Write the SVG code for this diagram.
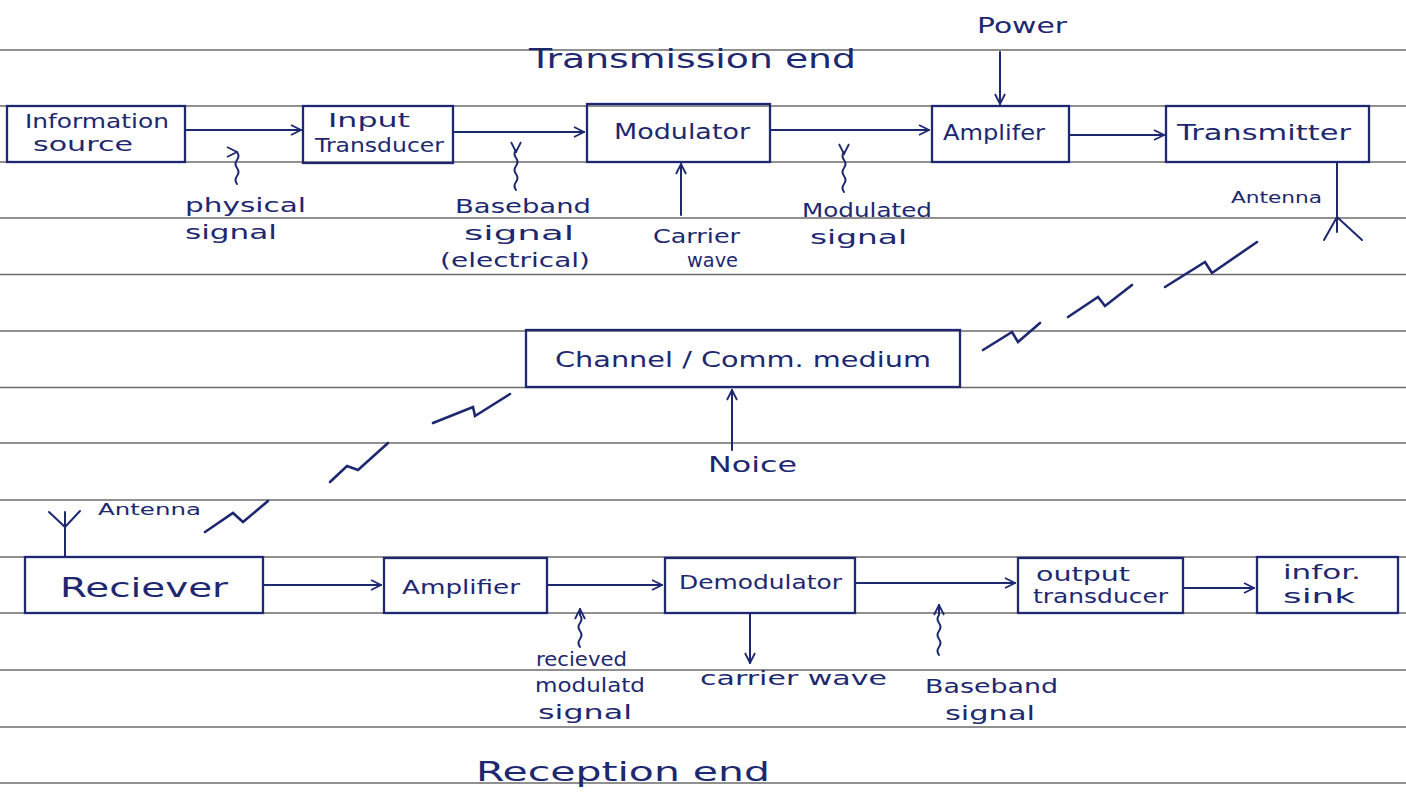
<svg xmlns="http://www.w3.org/2000/svg" width="1406" height="809" viewBox="0 0 1406 809">
<defs>
<style>
.rule{stroke:#6b6b6b;stroke-width:1.6;fill:none}
.box{fill:none;stroke:#1d2870;stroke-width:2.3}
.ink{fill:none;stroke:#1d2870;stroke-width:2;stroke-linecap:round;stroke-linejoin:round}
.zig{fill:none;stroke:#1d2870;stroke-width:2.6;stroke-linecap:round;stroke-linejoin:miter}
text{font-family:"DejaVu Sans","Liberation Sans",sans-serif;fill:#1d2870}
.s{font-size:19px}
.m{font-size:21px}
.l{font-size:26px}
.xs{font-size:16px}
</style>
<marker id="ah" viewBox="0 0 12 12" refX="11" refY="6" markerWidth="12" markerHeight="12" markerUnits="userSpaceOnUse" orient="auto">
<path d="M1,1 L11,6 L1,11" fill="none" stroke="#1d2870" stroke-width="1.8"/>
</marker>
</defs>
<rect width="1406" height="809" fill="#ffffff"/>

<g id="ruled-lines">
<line class="rule" x1="0" y1="50" x2="1406" y2="50"/>
<line class="rule" x1="0" y1="106" x2="1406" y2="106"/>
<line class="rule" x1="0" y1="162" x2="1406" y2="162"/>
<line class="rule" x1="0" y1="218" x2="1406" y2="218"/>
<line class="rule" x1="0" y1="274.5" x2="1406" y2="274.5"/>
<line class="rule" x1="0" y1="331" x2="1406" y2="331"/>
<line class="rule" x1="0" y1="387.5" x2="1406" y2="387.5"/>
<line class="rule" x1="0" y1="443" x2="1406" y2="443"/>
<line class="rule" x1="0" y1="500" x2="1406" y2="500"/>
<line class="rule" x1="0" y1="557" x2="1406" y2="557"/>
<line class="rule" x1="0" y1="613" x2="1406" y2="613"/>
<line class="rule" x1="0" y1="670" x2="1406" y2="670"/>
<line class="rule" x1="0" y1="727" x2="1406" y2="727"/>
<line class="rule" x1="0" y1="783" x2="1406" y2="783"/>
</g>

<g id="headings">
<text class="l" x="529" y="68" textLength="327" lengthAdjust="spacingAndGlyphs">Transmission end</text>
<text class="l" x="476" y="781" textLength="294" lengthAdjust="spacingAndGlyphs">Reception end</text>
</g>

<g id="info-source">
<rect class="box" x="7" y="106" width="178" height="56"/>
<text class="s" x="25" y="128" textLength="144" lengthAdjust="spacingAndGlyphs">Information</text>
<text class="s" x="33" y="151" textLength="100" lengthAdjust="spacingAndGlyphs">source</text>
</g>
<g id="input-transducer">
<rect class="box" x="303" y="106" width="150" height="57"/>
<text class="s" x="328" y="127" textLength="82" lengthAdjust="spacingAndGlyphs">Input</text>
<text class="s" x="315" y="152" textLength="129" lengthAdjust="spacingAndGlyphs">Transducer</text>
</g>
<g id="modulator">
<rect class="box" x="587" y="104" width="183" height="58"/>
<text class="m" x="614" y="139" textLength="136" lengthAdjust="spacingAndGlyphs">Modulator</text>
</g>
<g id="amplifier-tx">
<rect class="box" x="932" y="106" width="137" height="56"/>
<text class="m" x="943" y="140" textLength="102" lengthAdjust="spacingAndGlyphs">Amplifer</text>
</g>
<g id="transmitter">
<rect class="box" x="1166" y="106" width="203" height="56"/>
<text class="m" x="1177" y="140" textLength="174" lengthAdjust="spacingAndGlyphs">Transmitter</text>
</g>
<g id="channel">
<rect class="box" x="526" y="330" width="434" height="57"/>
<text class="m" x="555" y="367" textLength="376" lengthAdjust="spacingAndGlyphs">Channel / Comm. medium</text>
</g>
<g id="receiver">
<rect class="box" x="25" y="557" width="238" height="56"/>
<text class="l" x="60" y="597" textLength="168" lengthAdjust="spacingAndGlyphs">Reciever</text>
</g>
<g id="amplifier-rx">
<rect class="box" x="384" y="558" width="163" height="55"/>
<text class="s" x="402" y="594" textLength="118" lengthAdjust="spacingAndGlyphs">Amplifier</text>
</g>
<g id="demodulator">
<rect class="box" x="665" y="558" width="190" height="55"/>
<text class="s" x="679" y="589" textLength="163" lengthAdjust="spacingAndGlyphs">Demodulator</text>
</g>
<g id="output-transducer">
<rect class="box" x="1018" y="558" width="165" height="55"/>
<text class="s" x="1036" y="581" textLength="94" lengthAdjust="spacingAndGlyphs">output</text>
<text class="s" x="1033" y="603" textLength="135" lengthAdjust="spacingAndGlyphs">transducer</text>
</g>
<g id="info-sink">
<rect class="box" x="1257" y="557" width="141" height="56"/>
<text class="s" x="1283" y="579" textLength="78" lengthAdjust="spacingAndGlyphs">infor.</text>
<text class="s" x="1283" y="603" textLength="72" lengthAdjust="spacingAndGlyphs">sink</text>
</g>

<g id="connectors">
<line class="ink" x1="185" y1="130" x2="301" y2="130" marker-end="url(#ah)"/>
<line class="ink" x1="453" y1="132" x2="584" y2="132" marker-end="url(#ah)"/>
<line class="ink" x1="770" y1="130" x2="929" y2="130" marker-end="url(#ah)"/>
<line class="ink" x1="1069" y1="135" x2="1164" y2="135" marker-end="url(#ah)"/>
<line class="ink" x1="1000" y1="52" x2="1000" y2="104" marker-end="url(#ah)"/>
<line class="ink" x1="681" y1="215" x2="681" y2="164" marker-end="url(#ah)"/>
<line class="ink" x1="732" y1="450" x2="732" y2="390" marker-end="url(#ah)"/>
<line class="ink" x1="263" y1="585" x2="381" y2="585" marker-end="url(#ah)"/>
<line class="ink" x1="547" y1="585" x2="662" y2="585" marker-end="url(#ah)"/>
<line class="ink" x1="855" y1="583" x2="1015" y2="583" marker-end="url(#ah)"/>
<line class="ink" x1="1183" y1="588" x2="1254" y2="588" marker-end="url(#ah)"/>
<line class="ink" x1="750" y1="613" x2="750" y2="663" marker-end="url(#ah)"/>
<!-- signal squiggles -->
<path class="ink" d="M237,184 q-3,-4 0,-8 q3,-4 0,-8 q-3,-4 0,-8 q3,-4 0,-8 L237,152" marker-end="url(#ah)"/>
<path class="ink" d="M516,190 q-3,-4 0,-8 q3,-4 0,-8 q-3,-4 0,-8 q3,-4 0,-8 q-3,-4 0,-8 L516,152" marker-end="url(#ah)"/>
<path class="ink" d="M844,192 q-3,-4 0,-8 q3,-4 0,-8 q-3,-4 0,-8 q3,-4 0,-8 q-3,-4 0,-8 L844,154" marker-end="url(#ah)"/>
<path class="ink" d="M580,647 q-3,-4 0,-8 q3,-4 0,-8 q-3,-4 0,-8 q3,-4 0,-8 L580,609" marker-end="url(#ah)"/>
<path class="ink" d="M939,655 q-3,-4 0,-8 q3,-4 0,-8 q-3,-4 0,-8 q3,-4 0,-8 q-3,-4 0,-8 L939,605" marker-end="url(#ah)"/>
<!-- antennas -->
<path class="ink" d="M1337,162 L1337,232 M1337,217 L1324,240 M1337,217 L1362,240"/>
<path class="ink" d="M65,557 L65,512 M49,512 L65,527 M80,511 L65,527"/>
<!-- radio links -->
<path class="zig" d="M983,350 L1012,332 L1018,342 L1040,323"/>
<path class="zig" d="M1068,317 L1098,297 L1105,306 L1132,285"/>
<path class="zig" d="M1165,287 L1205,262 L1212,273 L1257,242"/>
<path class="zig" d="M433,423 L473,407 L475,416 L510,394"/>
<path class="zig" d="M330,482 L347,466 L358,470 L388,443"/>
<path class="zig" d="M205,532 L233,513 L243,522 L268,501"/>
</g>

<g id="labels">
<text class="m" x="977" y="33" textLength="90" lengthAdjust="spacingAndGlyphs">Power</text>
<text class="s" x="185" y="212" textLength="121" lengthAdjust="spacingAndGlyphs">physical</text>
<text class="s" x="185" y="239" textLength="92" lengthAdjust="spacingAndGlyphs">signal</text>
<text class="s" x="455" y="213" textLength="136" lengthAdjust="spacingAndGlyphs">Baseband</text>
<text class="s" x="464" y="240" textLength="110" lengthAdjust="spacingAndGlyphs">signal</text>
<text class="s" x="440" y="267" textLength="150" lengthAdjust="spacingAndGlyphs">(electrical)</text>
<text class="s" x="653" y="243" textLength="87" lengthAdjust="spacingAndGlyphs">Carrier</text>
<text class="s" x="687" y="267" textLength="51" lengthAdjust="spacingAndGlyphs">wave</text>
<text class="s" x="802" y="217" textLength="130" lengthAdjust="spacingAndGlyphs">Modulated</text>
<text class="s" x="810" y="244" textLength="97" lengthAdjust="spacingAndGlyphs">signal</text>
<text class="xs" x="1231" y="203" textLength="91" lengthAdjust="spacingAndGlyphs">Antenna</text>
<text class="m" x="708" y="472" textLength="89" lengthAdjust="spacingAndGlyphs">Noice</text>
<text class="xs" x="98" y="515" textLength="103" lengthAdjust="spacingAndGlyphs">Antenna</text>
<text class="s" x="536" y="666" textLength="91" lengthAdjust="spacingAndGlyphs">recieved</text>
<text class="s" x="535" y="692" textLength="110" lengthAdjust="spacingAndGlyphs">modulatd</text>
<text class="s" x="538" y="719" textLength="94" lengthAdjust="spacingAndGlyphs">signal</text>
<text class="s" x="700" y="685" textLength="187" lengthAdjust="spacingAndGlyphs">carrier wave</text>
<text class="s" x="925" y="693" textLength="133" lengthAdjust="spacingAndGlyphs">Baseband</text>
<text class="s" x="945" y="720" textLength="90" lengthAdjust="spacingAndGlyphs">signal</text>
</g>
</svg>
